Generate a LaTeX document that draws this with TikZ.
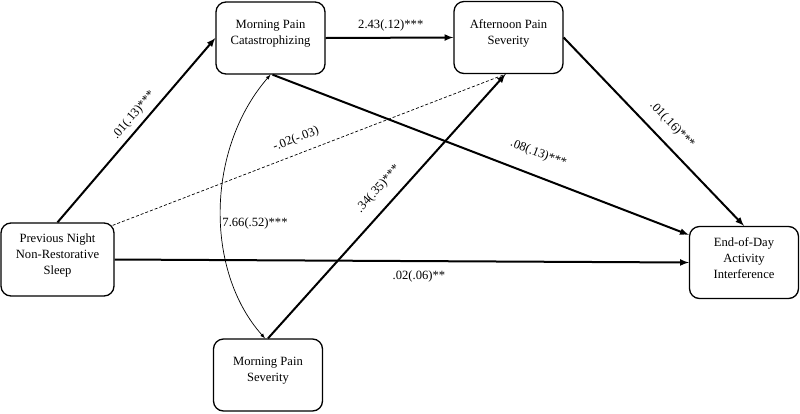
\documentclass[tikz,border=0pt]{standalone}
\usepackage{fontspec}
\setmainfont{Liberation Serif}
\usetikzlibrary{arrows}

\begin{document}
\begin{tikzpicture}
[x=1pt, y=-1pt, >=latex,
 font=\fontsize{12.6}{16}\selectfont,
 var/.style={draw, line width=1.3pt, rounded corners=10pt, minimum width=109pt, minimum height=72pt},
 vartext/.style={align=center, inner sep=0pt},
 effect/.style={line width=2pt, ->},
 coef/.style={inner sep=0pt}]
\useasboundingbox (0,0) rectangle (800,413);
% variables
\node[var, minimum width=113pt, minimum height=73pt] (sleep) at (57.5,259.5) {};
\node[vartext] (sleep-t) at (57.5,255) {Previous Night\\Non-Restorative\\Sleep};
\node[var] (mpc) at (270.5,38) {};
\node[vartext] (mpc-t) at (270.5,33.5) {Morning Pain\\Catastrophizing};
\node[var] (aps) at (508.5,37.5) {};
\node[vartext] (aps-t) at (508.5,33) {Afternoon Pain\\Severity};
\node[var] (mps) at (268,375) {};
\node[vartext] (mps-t) at (268,370.5) {Morning Pain\\Severity};
\node[var] (eod) at (744,262.5) {};
\node[vartext] (eod-t) at (744,258) {End-of-Day\\Activity\\Interference};
% paths
\draw[effect] (sleep.north) -- node[coef, sloped, above=5pt, pos=0.54] (c1) {.01(.13)***} (mpc.west);
\draw[effect] (mpc.east) -- node[coef, above=6pt, pos=0.51] (c2) {2.43(.12)***} (aps.west);
\draw[line width=0.7pt, dash pattern=on 3pt off 2pt] ([xshift=-2pt,yshift=-3pt]sleep.north east)
  -- node[coef, sloped, above=8.5pt, pos=0.48] (c3) {-.02(-.03)} ([xshift=-3pt]aps.south);
\draw[effect] ([xshift=2pt]mpc.south) -- node[coef, sloped, above=15pt, pos=0.62] (c4) {.08(.13)***} ([yshift=-9pt]eod.north west);
\draw[effect] (mps.north) -- node[coef, sloped, above=11pt, pos=0.52] (c5) {.34(.35)***} ([xshift=-3pt]aps.south);
\draw[effect] (aps.east) -- node[coef, sloped, above=11pt, pos=0.53] (c6) {.01(.16)***} (eod.north);
\draw[effect] (sleep.east) -- node[coef, below=9pt, pos=0.53] (c7) {.02(.06)**} (eod.west);
% covariance
\draw[line width=0.7pt, <->] (mpc.south) .. controls +(-65,75) and +(-60,-67) .. ([xshift=-3pt]mps.north)
  node[coef, right=1pt, pos=0.55] (c8) {7.66(.52)***};
\end{tikzpicture}
\end{document}
